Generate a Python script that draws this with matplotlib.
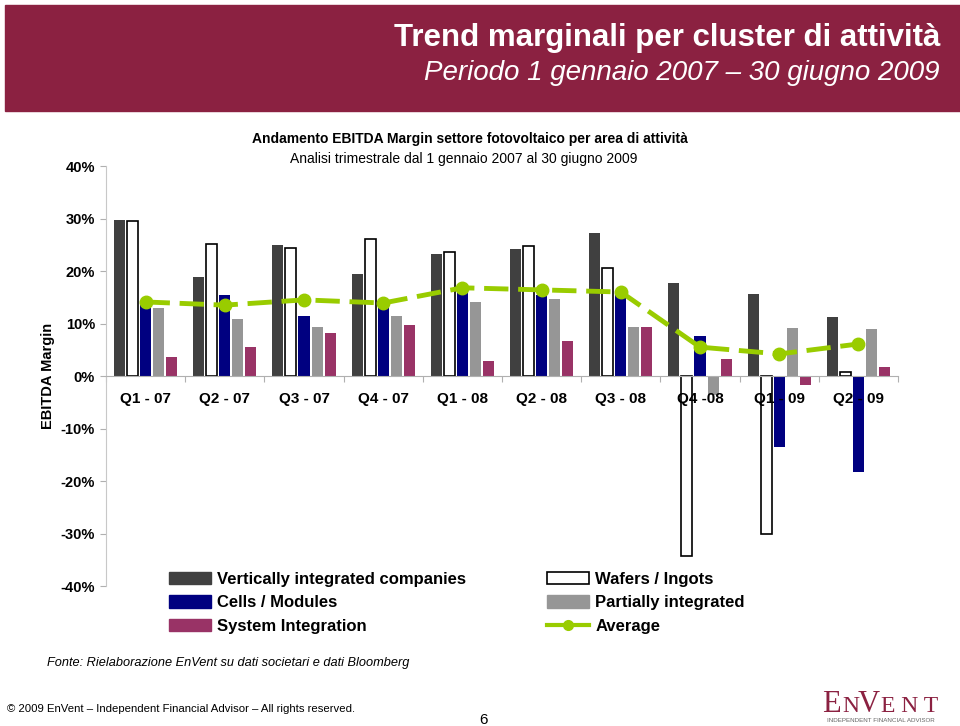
import numpy as np
import matplotlib
matplotlib.use('Agg')
from matplotlib import pyplot as plt
from matplotlib.patches import Patch, Rectangle
from matplotlib.lines import Line2D

plt.rcParams['font.family'] = ['Liberation Sans', 'DejaVu Sans']

quarters = ['Q1 - 07', 'Q2 - 07', 'Q3 - 07', 'Q4 - 07', 'Q1 - 08',
            'Q2 - 08', 'Q3 - 08', 'Q4 -08', 'Q1 - 09', 'Q2 - 09']
vertically = [29.7, 18.9, 24.9, 19.4, 23.2, 24.2, 27.2, 17.7, 15.6, 11.2]
wafers = [29.5, 25.1, 24.4, 26.1, 23.6, 24.8, 20.6, -34.3, -30.1, 0.8]
cells = [14.0, 15.4, 11.4, 13.3, 16.4, 15.4, 15.4, 7.6, -13.5, -18.3]
partial = [12.9, 10.9, 9.3, 11.4, 14.1, 14.7, 9.3, -3.6, 9.1, 9.0]
system = [3.6, 5.5, 8.2, 9.7, 2.9, 6.7, 9.3, 3.2, -1.7, 1.8]
average = [14.1, 13.5, 14.5, 13.9, 16.8, 16.4, 16.0, 5.5, 4.2, 6.1]

burgundy = '#8B2141'
green = '#99CC00'

fig = plt.figure(figsize=(9.6, 7.26), dpi=100)

# header band
fig.patches.append(Rectangle((5 / 960, 1 - 111 / 726), 1, 106 / 726,
                             transform=fig.transFigure, color=burgundy, zorder=0))
fig.text(940 / 960, 1 - 38 / 726, 'Trend marginali per cluster di attività',
         color='white', fontsize=22.5, fontweight='bold', ha='right', va='center')
fig.text(940 / 960, 1 - 73 / 726, 'Periodo 1 gennaio 2007 – 30 giugno 2009',
         color='white', fontsize=20, style='italic', ha='right', va='center')

ax = fig.add_axes([106 / 960, 1 - 586 / 726, 792 / 960, 420 / 726])
x = np.arange(len(quarters)) + 0.5
w = 0.14
step = 0.165
series = [(vertically, dict(color='#404040')),
          (wafers, dict(facecolor='white', edgecolor='black', linewidth=1.2)),
          (cells, dict(color='#000080')),
          (partial, dict(color='#969696')),
          (system, dict(color='#993366'))]
for k, (vals, style) in enumerate(series):
    ax.bar(x + (k - 2) * step, vals, width=w, zorder=2, **style)

ax.plot(x, average, color=green, lw=3.5, linestyle=(0, (5, 2)),
        marker='o', ms=9, zorder=3)

ax.set_xlim(0, len(quarters))
ax.set_ylim(-40, 40)
ax.set_yticks(np.arange(-40, 41, 10))
ax.set_yticklabels([f'{v}%' for v in range(-40, 41, 10)],
                   fontsize=10.5, fontweight='bold')
ax.set_xticks(np.arange(len(quarters) + 1))
ax.set_xticklabels([])
for s in ['top', 'right']:
    ax.spines[s].set_visible(False)
ax.spines['bottom'].set_position(('data', 0))
ax.spines['bottom'].set_color('#b0b0b0')
ax.spines['left'].set_color('#c8c8c8')
ax.tick_params(axis='both', direction='out', length=4, color='#b0b0b0')
ax.tick_params(axis='y', pad=4)
for xi, q in zip(x, quarters):
    ax.annotate(q, (xi, 0), xytext=(0, -23), textcoords='offset pixels',
                ha='center', va='center', fontsize=11, fontweight='bold', zorder=4)
ax.set_ylabel('EBITDA Margin', fontsize=10.5, fontweight='bold', labelpad=4)

fig.text(470 / 960, 1 - 139 / 726,
         'Andamento EBITDA Margin settore fotovoltaico per area di attività',
         fontsize=10, fontweight='bold', ha='center', va='center')
fig.text(464 / 960, 1 - 159 / 726,
         'Analisi trimestrale dal 1 gennaio 2007 al 30 giugno 2009',
         fontsize=10, ha='center', va='center')

# legend in two columns
left_h = [Patch(color='#404040'), Patch(color='#000080'), Patch(color='#993366')]
left_l = ['Vertically integrated companies', 'Cells / Modules', 'System Integration']
right_h = [Patch(facecolor='white', edgecolor='black', linewidth=1.2),
           Patch(color='#969696'),
           Line2D([], [], color=green, lw=3, marker='o', ms=7)]
right_l = ['Wafers / Ingots', 'Partially integrated', 'Average']
opts = dict(frameon=False, handlelength=2.5, handleheight=0.75,
            handletextpad=0.4, labelspacing=0.5, borderpad=0, borderaxespad=0,
            prop=dict(weight='bold', size=12))
fig.legend(left_h, left_l, loc='upper left',
           bbox_to_anchor=(169 / 960, 1 - 572 / 726), **opts)
fig.legend(right_h, right_l, loc='upper left',
           bbox_to_anchor=(547 / 960, 1 - 572 / 726), **opts)

fig.text(47 / 960, 1 - 663 / 726,
         'Fonte: Rielaborazione EnVent su dati societari e dati Bloomberg',
         fontsize=9.2, style='italic', va='center')
fig.text(7 / 960, 1 - 709 / 726,
         '© 2009 EnVent – Independent Financial Advisor – All rights reserved.',
         fontsize=8.2, va='center')
fig.text(483 / 960, 1 - 720 / 726, '6', fontsize=11, ha='center', va='center')

# logo
logo = dict(family='Liberation Serif', color=burgundy, va='baseline')
fig.text(822 / 960, 1 - 712 / 726, 'E', fontsize=22, **logo)
fig.text(842 / 960, 1 - 712 / 726, 'N', fontsize=17, **logo)
fig.text(858 / 960, 1 - 712 / 726, 'V', fontsize=22, **logo)
fig.text(881 / 960, 1 - 712 / 726, 'E N T', fontsize=17, **logo)
fig.text(881 / 960, 1 - 720 / 726, 'INDEPENDENT FINANCIAL ADVISOR',
         fontsize=4.5, color='#666666', ha='center', va='center')

fig.savefig('out.png', dpi=100)
